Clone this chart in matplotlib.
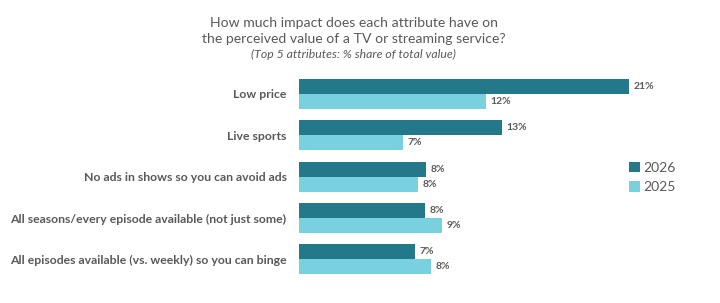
import matplotlib
matplotlib.use("Agg")
import matplotlib.pyplot as plt
import numpy as np
from matplotlib.patches import Patch

categories = [
    "Low price",
    "Live sports",
    "No ads in shows so you can avoid ads",
    "All seasons/every episode available (not just some)",
    "All episodes available (vs. weekly) so you can binge",
]
values_2026 = [21.0, 12.9, 8.1, 8.0, 7.4]
values_2025 = [11.9, 6.6, 7.6, 9.1, 8.4]
series_names = ["2026", "2025"]

c26 = "#23798A"
c25 = "#79D0DE"
txt = "#595959"

plt.rcParams['font.family'] = ['Lato', 'DejaVu Sans']

fig = plt.figure(figsize=(7.2, 3.03), dpi=100)
ax = fig.add_axes([299 / 720, 1 - 284.1 / 303, 377 / 720, (284.1 - 69.2) / 303])

y = np.arange(len(categories))
h = 0.363
b1 = ax.barh(y - h / 2, values_2026, height=h, color=c26)
b2 = ax.barh(y + h / 2, values_2025, height=h, color=c25)

for bars, vals in ((b1, values_2026), (b2, values_2025)):
    for bar, v in zip(bars, vals):
        ax.text(bar.get_width() + 0.3, bar.get_y() + bar.get_height() / 2,
                f"{round(v):d}%", va="center", ha="left", fontsize=7.5,
                fontweight="bold", color=txt)

ax.set_xlim(0, 24)
ax.set_ylim(len(categories) - 0.4, -0.6)
ax.set_yticks(y)
ax.set_yticklabels(categories, fontsize=8.8, fontweight="bold", color=txt)
ax.tick_params(axis="y", length=0, pad=9)
ax.set_xticks([])
for s in ax.spines.values():
    s.set_visible(False)

fig.text(354 / 720, 1 - 23 / 303, "How much impact does each attribute have on",
         ha="center", va="center", fontsize=10.1, color=txt)
fig.text(354 / 720, 1 - 39 / 303, "the perceived value of a TV or streaming service?",
         ha="center", va="center", fontsize=10.1, color=txt)
fig.text(353 / 720, 1 - 54 / 303, "(Top 5 attributes: % share of total value)",
         ha="center", va="center", fontsize=8.8, style="italic", color=txt)

handles = [Patch(facecolor=c26), Patch(facecolor=c25)]
leg = fig.legend(handles, series_names, loc="upper left",
                 bbox_to_anchor=(616 / 720, 1 - 149 / 303), frameon=False,
                 fontsize=10, handlelength=0.8, handleheight=0.8,
                 handletextpad=0.3, labelspacing=0.55, labelcolor=txt)

fig.savefig("out.png", dpi=100, facecolor="white")
